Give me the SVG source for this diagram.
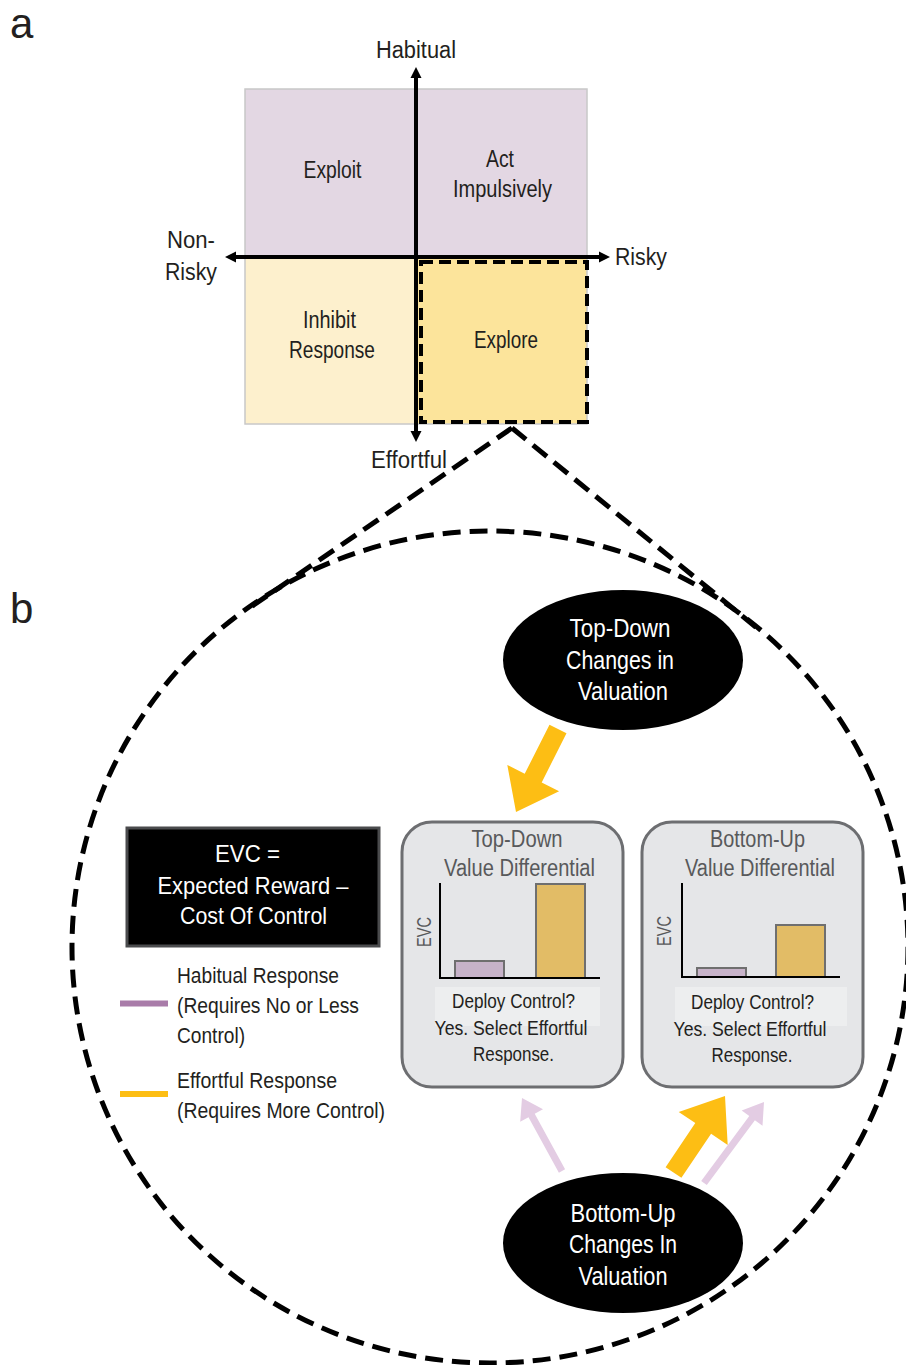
<svg xmlns="http://www.w3.org/2000/svg" width="906" height="1365" viewBox="0 0 906 1365">
<defs>
<style>
text{font-family:'Liberation Sans Narrow','Liberation Sans',Arial,sans-serif;fill:#231F20;}
.lbl{font-size:42px;font-family:'Liberation Sans',Arial,sans-serif;}
.q{font-size:23px;text-anchor:middle;}
.w{font-size:26px;text-anchor:middle;fill:#fff;}
.ev{font-size:24px;text-anchor:middle;fill:#fff;}
.bt{font-size:23px;text-anchor:middle;fill:#58595B;}
.dp{font-size:21px;text-anchor:middle;}
.lg{font-size:22px;}
.evc{font-size:20px;text-anchor:middle;fill:#58595B;}
.dash{fill:none;stroke:#000;stroke-width:5;stroke-dasharray:18 9;}
.box{fill:#E5E6E8;stroke:#6D6E71;stroke-width:3;}
.dbg{fill:#EDEEEF;}
.ax{stroke:#000;stroke-width:2;fill:none;}
.pb{fill:#C7B3C9;stroke:#6F6F6F;stroke-width:2;}
.yb{fill:#E2BC66;stroke:#6F6F6F;stroke-width:2;}
.yarr{fill:#FDBE14;}
.parr{fill:#E3CCE3;}
.axis{stroke:#000;stroke-width:4;fill:none;}
</style>
<marker id="ah" markerUnits="userSpaceOnUse" markerWidth="12" markerHeight="12" refX="0" refY="5.5" orient="auto" viewBox="0 0 12 11">
<path d="M0,0 L11,5.5 L0,11 z" fill="#000"/>
</marker>
</defs>
<rect width="906" height="1365" fill="#fff"/>

<text class="lbl" x="10" y="38">a</text>
<text class="lbl" x="10" y="623">b</text>

<g id="big-circle">
<ellipse class="dash" cx="490" cy="947" rx="418" ry="416"/>
</g>

<g id="quadrants">
<rect x="245" y="89" width="342" height="168" fill="#E3D7E3"/>
<rect x="245" y="257" width="171" height="167" fill="#FDF0CD"/>
<rect x="416" y="257" width="171" height="167" fill="#FCE49B"/>
<rect x="245" y="89" width="342" height="335" fill="none" stroke="#C8C8C8" stroke-width="1.5"/>
<g id="q-exploit"><text class="q" x="332.5" y="178" textLength="58" lengthAdjust="spacingAndGlyphs">Exploit</text></g>
<g id="q-act"><text class="q" x="500" y="167" textLength="28" lengthAdjust="spacingAndGlyphs">Act</text>
<text class="q" x="502.5" y="197" textLength="99" lengthAdjust="spacingAndGlyphs">Impulsively</text></g>
<g id="q-inhibit"><text class="q" x="329.5" y="328" textLength="53" lengthAdjust="spacingAndGlyphs">Inhibit</text>
<text class="q" x="332" y="358" textLength="86" lengthAdjust="spacingAndGlyphs">Response</text></g>
<g id="q-explore">
<rect x="421" y="262" width="166" height="160" fill="none" stroke="#000" stroke-width="4" stroke-dasharray="12 6"/>
<text class="q" x="506" y="348" textLength="64" lengthAdjust="spacingAndGlyphs">Explore</text></g>
</g>

<g id="axis-labels">
<text class="q" x="416" y="58" textLength="80" lengthAdjust="spacingAndGlyphs">Habitual</text>
<text class="q" x="409" y="468" textLength="76" lengthAdjust="spacingAndGlyphs">Effortful</text>
<text class="q" x="191" y="248" textLength="48" lengthAdjust="spacingAndGlyphs">Non-</text>
<text class="q" x="191" y="280" textLength="52" lengthAdjust="spacingAndGlyphs">Risky</text>
<text class="q" x="641" y="265" textLength="52" lengthAdjust="spacingAndGlyphs">Risky</text>
</g>

<g id="connectors">
<line class="axis" x1="416" y1="431" x2="416" y2="78" marker-end="url(#ah)"/>
<line class="axis" x1="416" y1="100" x2="416" y2="431" marker-end="url(#ah)"/>
<line class="axis" x1="416" y1="257" x2="236" y2="257" marker-end="url(#ah)"/>
<line class="axis" x1="416" y1="257" x2="599" y2="257" marker-end="url(#ah)"/>
<line class="dash" x1="512" y1="428" x2="245" y2="611"/>
<line class="dash" x1="512" y1="428" x2="757" y2="628"/>
<polygon class="yarr" points="566.5,733.3 541.7,782.4 559.1,791.2 516,812 507.3,765 524.7,773.8 549.5,724.7"/>
<polygon class="yarr" points="681.4,1177.8 711.1,1133.7 727.7,1144.9 725,1096 678.7,1111.9 695.3,1123.1 665.6,1167.2"/>
<polygon class="parr" points="565.1,1169.3 534.7,1113.8 543,1109.3 522,1098 520.2,1121.7 528.5,1117.2 558.9,1172.7"/>
<polygon class="parr" points="706.8,1185.1 754.9,1120.2 762.5,1125.8 764,1102 741.7,1110.4 749.3,1116 701.2,1180.9"/>
</g>

<g id="top-down-node">
<ellipse cx="623" cy="660" rx="120" ry="70" fill="#000"/>
<text class="w" x="620" y="637" textLength="101" lengthAdjust="spacingAndGlyphs">Top-Down</text>
<text class="w" x="620" y="669" textLength="108" lengthAdjust="spacingAndGlyphs">Changes in</text>
<text class="w" x="623" y="700" textLength="90" lengthAdjust="spacingAndGlyphs">Valuation</text>
</g>

<g id="bottom-up-node">
<ellipse cx="623" cy="1243" rx="120" ry="70" fill="#000"/>
<text class="w" x="623" y="1222" textLength="105" lengthAdjust="spacingAndGlyphs">Bottom-Up</text>
<text class="w" x="623" y="1253" textLength="108" lengthAdjust="spacingAndGlyphs">Changes In</text>
<text class="w" x="623" y="1285" textLength="89" lengthAdjust="spacingAndGlyphs">Valuation</text>
</g>

<g id="evc-box">
<rect x="127" y="828" width="252" height="118" fill="#000" stroke="#4A4B4D" stroke-width="3"/>
<text class="ev" x="247.5" y="862" textLength="65" lengthAdjust="spacingAndGlyphs">EVC =</text>
<text class="ev" x="253" y="894" textLength="191" lengthAdjust="spacingAndGlyphs">Expected Reward –</text>
<text class="ev" x="253.5" y="924" textLength="147" lengthAdjust="spacingAndGlyphs">Cost Of Control</text>
</g>

<g id="legend">
<rect x="120" y="1000.5" width="48" height="6" fill="#A97CA9"/>
<text class="lg" x="177" y="983" textLength="162" lengthAdjust="spacingAndGlyphs">Habitual Response</text>
<text class="lg" x="177" y="1013" textLength="182" lengthAdjust="spacingAndGlyphs">(Requires No or Less</text>
<text class="lg" x="177" y="1043" textLength="68" lengthAdjust="spacingAndGlyphs">Control)</text>
<rect x="120" y="1091" width="48" height="6" fill="#FDBE14"/>
<text class="lg" x="177" y="1088" textLength="160" lengthAdjust="spacingAndGlyphs">Effortful Response</text>
<text class="lg" x="177" y="1118" textLength="208" lengthAdjust="spacingAndGlyphs">(Requires More Control)</text>
</g>

<g id="top-down-panel">
<rect class="box" x="402" y="822" width="221" height="265" rx="30"/>
<text class="bt" x="517" y="847" textLength="91" lengthAdjust="spacingAndGlyphs">Top-Down</text>
<text class="bt" x="519.5" y="876" textLength="151" lengthAdjust="spacingAndGlyphs">Value Differential</text>
<rect class="pb" x="455" y="961" width="49" height="17"/>
<rect class="yb" x="536" y="884" width="49" height="94"/>
<path class="ax" d="M440,883 V978 H600"/>
<text class="evc" transform="translate(431,932) rotate(-90)" x="0" y="0" textLength="30" lengthAdjust="spacingAndGlyphs">EVC</text>
<rect class="dbg" x="435" y="987" width="165" height="39"/>
<text class="dp" x="513.5" y="1008" textLength="123" lengthAdjust="spacingAndGlyphs">Deploy Control?</text>
<text class="dp" x="511" y="1035" textLength="153" lengthAdjust="spacingAndGlyphs">Yes. Select Effortful</text>
<text class="dp" x="513.5" y="1061" textLength="81" lengthAdjust="spacingAndGlyphs">Response.</text>
</g>

<g id="bottom-up-panel">
<rect class="box" x="642" y="822" width="221" height="265" rx="30"/>
<text class="bt" x="757.5" y="847" textLength="95" lengthAdjust="spacingAndGlyphs">Bottom-Up</text>
<text class="bt" x="760" y="876" textLength="150" lengthAdjust="spacingAndGlyphs">Value Differential</text>
<rect class="pb" x="697" y="968" width="49" height="9"/>
<rect class="yb" x="776" y="925" width="49" height="52"/>
<path class="ax" d="M682,883 V977 H840"/>
<text class="evc" transform="translate(670.5,931) rotate(-90)" x="0" y="0" textLength="30" lengthAdjust="spacingAndGlyphs">EVC</text>
<rect class="dbg" x="675" y="987" width="172" height="39"/>
<text class="dp" x="752.5" y="1009" textLength="123" lengthAdjust="spacingAndGlyphs">Deploy Control?</text>
<text class="dp" x="750" y="1036" textLength="153" lengthAdjust="spacingAndGlyphs">Yes. Select Effortful</text>
<text class="dp" x="752" y="1062" textLength="81" lengthAdjust="spacingAndGlyphs">Response.</text>
</g>
</svg>
